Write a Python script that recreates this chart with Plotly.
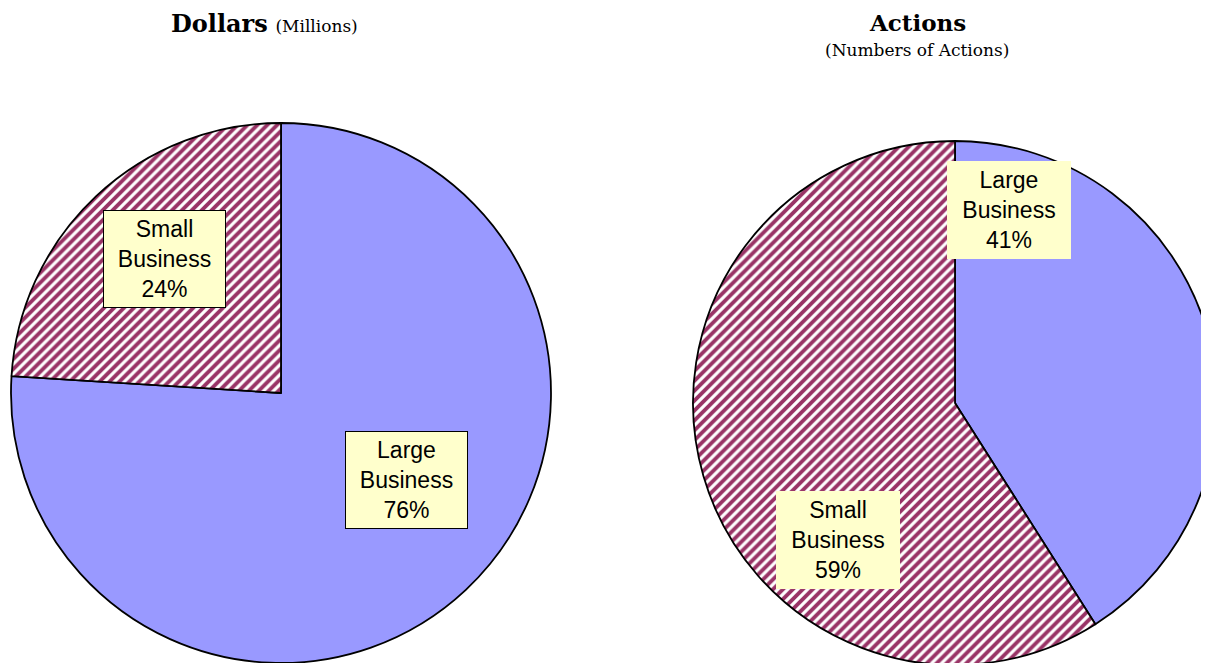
import plotly.graph_objects as go

# ---- data ----
categories = ["Large Business", "Small Business"]
dollars_pct = [76, 24]
actions_pct = [41, 59]
dollars_labels = ["Large<br>Business<br>76%", "Small<br>Business<br>24%"]
actions_labels = ["Large<br>Business<br>41%", "Small<br>Business<br>59%"]

W, H = 1209, 663
OFF = 8  # page body margin offset


def px(x):
    return (x - OFF) / W


def py(y):
    return 1 - (y - OFF) / H


slice_colors = ["#9999FF", "#FFFFFF"]
pattern = dict(shape=["", "/"], fgcolor="#993366", bgcolor=slice_colors,
               size=7, solidity=0.55, fillmode="replace")

fig = go.Figure()
fig.add_trace(go.Pie(
    labels=categories, values=dollars_pct, sort=False, direction="clockwise",
    rotation=0, textinfo="none", hoverinfo="label+percent",
    marker=dict(colors=slice_colors, line=dict(color="black", width=1.8), pattern=pattern),
    domain=dict(x=[px(11), px(551)], y=[py(663), py(123)]),
    showlegend=False,
))
fig.add_trace(go.Pie(
    labels=categories, values=actions_pct, sort=False, direction="clockwise",
    rotation=0, textinfo="none", hoverinfo="label+percent",
    marker=dict(colors=slice_colors, line=dict(color="black", width=1.8), pattern=pattern),
    domain=dict(x=[px(693), px(1217)], y=[py(665), py(141)]),
    showlegend=False,
))

box_font = dict(family="Liberation Sans, Arial, sans-serif", size=23, color="black")
serif = "Palatino Linotype, DejaVu Serif, serif"

annotations = [
    # titles
    dict(x=px(264), y=py(23), text="<b>Dollars</b> <span style='font-size:17px'>(Millions)</span>",
         font=dict(family=serif, size=24, color="black"), yanchor="middle"),
    dict(x=px(917), y=1, text="<b>Actions</b>", borderpad=0,
         font=dict(family=serif, size=23, color="black"), yanchor="top"),
    dict(x=px(917), y=py(50), text="(Numbers of Actions)",
         font=dict(family=serif, size=17, color="black"), yanchor="middle"),
    # label boxes
    dict(x=px(406), y=py(480), text=dollars_labels[0], font=box_font, bgcolor="#FFFFCC",
         bordercolor="black", borderwidth=1, borderpad=2, width=117, height=92, yanchor="middle"),
    dict(x=px(164), y=py(259), text=dollars_labels[1], font=box_font, bgcolor="#FFFFCC",
         bordercolor="black", borderwidth=1, borderpad=2, width=117, height=92, yanchor="middle"),
    dict(x=px(1009), y=py(210), text=actions_labels[0], font=box_font, bgcolor="#FFFFCC",
         borderwidth=0, borderpad=3, width=118, height=92, yanchor="middle"),
    dict(x=px(838), y=py(540), text=actions_labels[1], font=box_font, bgcolor="#FFFFCC",
         borderwidth=0, borderpad=3, width=118, height=92, yanchor="middle"),
]
for a in annotations:
    a.update(xref="paper", yref="paper", showarrow=False, xanchor="center")

fig.update_layout(
    width=W, height=H,
    margin=dict(l=0, r=0, t=0, b=0),
    paper_bgcolor="white", plot_bgcolor="white",
    annotations=annotations,
)

fig.write_html("out.html")
